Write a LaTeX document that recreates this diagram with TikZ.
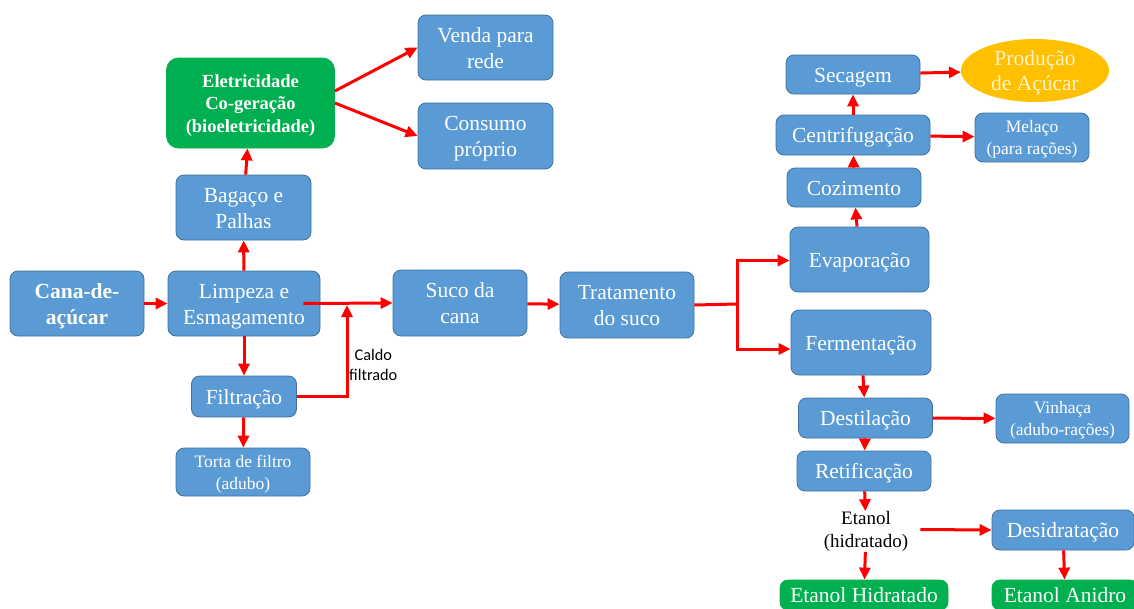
\documentclass[tikz,border=0pt]{standalone}
\usepackage{fontspec}
\setmainfont{Liberation Serif}
\newfontfamily\calibri{Carlito}
\usetikzlibrary{shapes,arrows.meta}
\definecolor{boxblue}{HTML}{5B9BD5}
\definecolor{boxedge}{HTML}{41719C}
\definecolor{cogreen}{HTML}{00B050}
\definecolor{amber}{HTML}{FFC000}
\definecolor{paleyellow}{HTML}{FFF2CC}

\begin{document}
\begin{tikzpicture}[x=1pt,y=-1pt,
    every node/.style={align=center,inner sep=0pt},
    proc/.style={rectangle,rounded corners=8pt,draw=boxedge,line width=0.8pt,
      fill=boxblue,text=white,font=\fontsize{21.5}{26}\selectfont},
    oneline/.style={text height=15pt,text depth=-1.5pt},
    twoline/.style={text height=41pt,text depth=-3pt},
    small/.style={font=\fontsize{17.5}{22}\selectfont,text height=34.5pt,text depth=-0.5pt},
    prod/.style={proc,draw=cogreen,fill=cogreen},
    flow/.style={draw=red,line width=3pt,-{Triangle[length=12pt,width=11pt]}},
    pipe/.style={draw=red,line width=3pt}]
  \useasboundingbox (0,0) rectangle (1134,608);

  \node[proc,twoline,minimum width=134,minimum height=65,font=\bfseries\fontsize{21.5}{26}\selectfont] (cana) at (77,303.5) {Cana-de-\\açúcar};
  \node[proc,twoline,minimum width=152,minimum height=65] (limp) at (244,303.5) {Limpeza e\\Esmagamento};
  \node[proc,twoline,minimum width=135,minimum height=65] (bag) at (243.5,207.5) {Bagaço e\\Palhas};
  \node[prod,rounded corners=12pt,minimum width=168,minimum height=90,text height=58pt,text depth=-1pt,
    font=\bfseries\fontsize{18.5}{22.5}\selectfont] (elet) at (250.5,103) {Eletricidade\\Co-geração\\(bioeletricidade)};
  \node[proc,twoline,minimum width=135,minimum height=65] (venda) at (485.5,47.5) {Venda para\\rede};
  \node[proc,twoline,minimum width=135,minimum height=66] (cons) at (485.5,136) {Consumo\\próprio};
  \node[proc,oneline,minimum width=105,minimum height=41] (filt) at (244,396.5) {Filtração};
  \node[proc,small,minimum width=134,minimum height=48] (torta) at (243,472) {Torta de filtro\\(adubo)};
  \node[anchor=west,font=\calibri\fontsize{16.3}{20}\selectfont] (caldo) at (349,365) {Caldo\\filtrado};
  \node[proc,twoline,minimum width=134,minimum height=66] (suco) at (460,303) {Suco da\\cana};
  \node[proc,twoline,minimum width=134,minimum height=66] (trat) at (627,305) {Tratamento\\do suco};

  \node[proc,oneline,minimum width=139,minimum height=65] (evap) at (859.5,259.5) {Evaporação};
  \node[proc,oneline,minimum width=134,minimum height=39] (coz) at (854,187.5) {Cozimento};
  \node[proc,oneline,minimum width=154,minimum height=40] (cent) at (853,135) {Centrifugação};
  \node[proc,oneline,minimum width=134,minimum height=39] (sec) at (853,74.5) {Secagem};
  \node[ellipse,fill=amber,text=paleyellow,text height=40pt,text depth=-3pt,minimum width=148,minimum height=63,
    font=\fontsize{21.5}{25}\selectfont] (acucar) at (1035,70.5) {Produção\\de Açúcar};
  \node[proc,small,minimum width=114,minimum height=49] (mel) at (1032,137.5) {Melaço\\(para rações)};

  \node[proc,oneline,minimum width=140,minimum height=65] (ferm) at (861,342.5) {Fermentação};
  \node[proc,oneline,minimum width=134,minimum height=40] (dest) at (865.5,418) {Destilação};
  \node[proc,small,minimum width=133,minimum height=49] (vinh) at (1062.5,418.5) {Vinhaça\\(adubo-rações)};
  \node[proc,oneline,minimum width=134,minimum height=40] (ret) at (864,471) {Retificação};
  \node[font=\fontsize{19}{23}\selectfont] (etanol) at (866,531.5) {Etanol\\(hidratado)};
  \node[proc,oneline,minimum width=142,minimum height=40] (desid) at (1063,530) {Desidratação};
  \node[prod,oneline,minimum width=168,minimum height=30] (hidr) at (864,595) {Etanol Hidratado};
  \node[prod,oneline,minimum width=146,minimum height=30] (anid) at (1065,595) {Etanol Anidro};

  \coordinate (junc) at (347,305);
  \coordinate (split) at (737,304);

  \draw[flow] (cana) -- (limp);
  \draw[flow] (limp) -- (bag);
  \draw[flow] (bag) -- (elet);
  \draw[flow] ([yshift=12pt]elet.east) -- (venda.west);
  \draw[flow] (elet.east) -- (cons.west);
  \draw[flow] (limp) -- (filt);
  \draw[flow] (filt) -- (torta);
  \draw[flow] (filt.east) -| (junc);
  \draw[flow] ([xshift=-17pt]limp.east) -- (suco.west);
  \draw[flow] (suco) -- (trat);
  \draw[pipe] (trat.east) -- (split);
  \draw[flow] (split) |- ([yshift=-1pt]evap.west);
  \draw[flow] (split) |- ([yshift=-6.5pt]ferm.west);
  \draw[flow] (evap) -- (coz);
  \draw[flow] (coz) -- (cent);
  \draw[flow] (cent) -- (sec);
  \draw[flow] (sec) -- (acucar);
  \draw[flow] (cent) -- (mel);
  \draw[flow] (ferm) -- (dest);
  \draw[flow] (dest) -- (vinh);
  \draw[flow] (dest) -- (ret);
  \draw[flow] (ret) -- (etanol);
  \draw[flow] ([xshift=12pt,yshift=2pt]etanol.east) -- (desid.west);
  \draw[flow] (etanol) -- (hidr);
  \draw[flow] (desid) -- (anid);
\end{tikzpicture}
\end{document}
